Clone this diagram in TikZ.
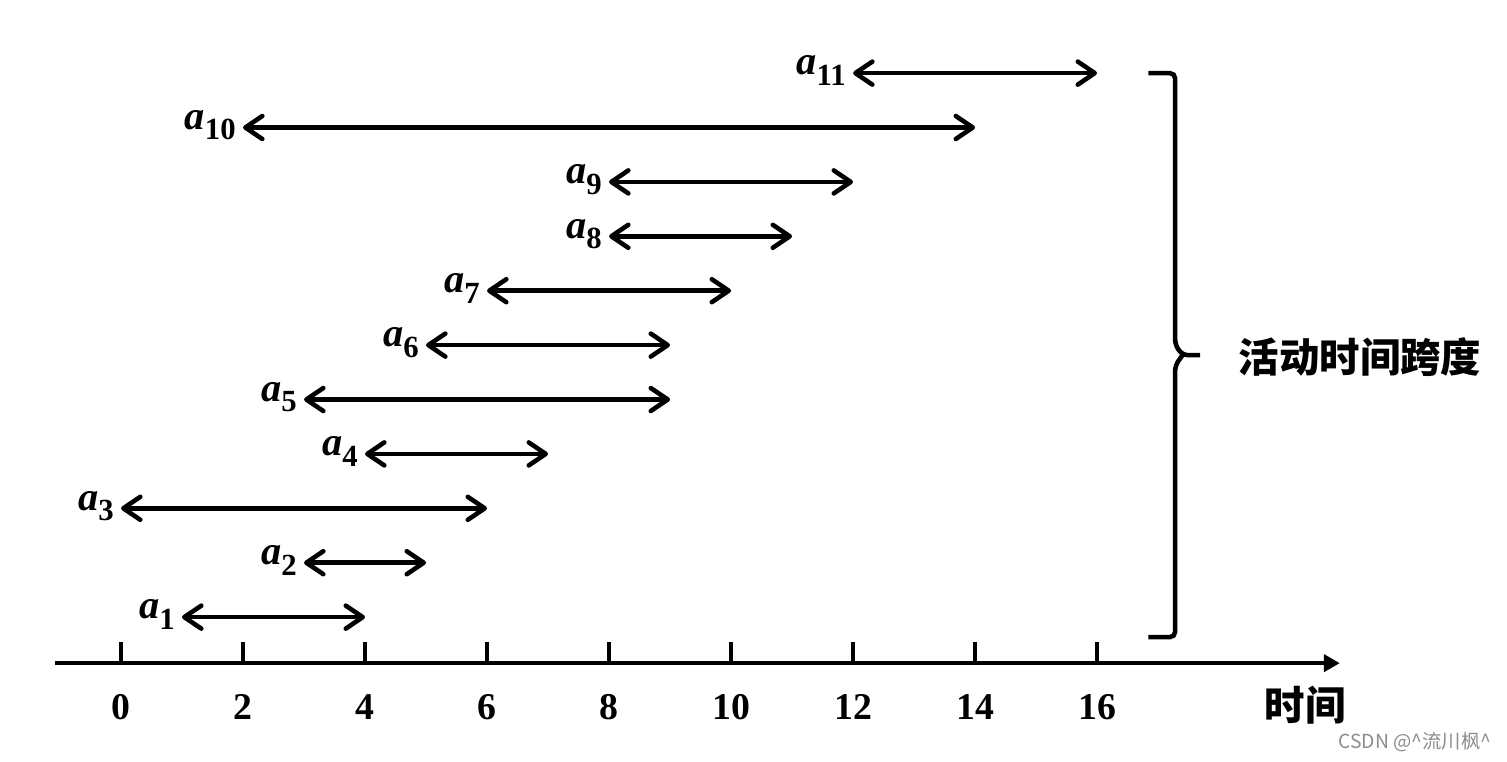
\documentclass[tikz,border=0pt]{standalone}
\usepackage{fontspec}
\setmainfont{Liberation Serif}
\newfontfamily\cjk{Noto Sans CJK SC}
\usetikzlibrary{arrows.meta}
\newcommand{\actname}[1]{{\bfseries\itshape a}\raisebox{-6pt}{\fontsize{17.5}{18}\selectfont\bfseries #1}}

\begin{document}
\begin{tikzpicture}[x=1.22cm,y=1.088cm,
    span/.style={line width=2.6pt,line cap=round,
        {Straight Barb[length=3.4mm,width=4.6mm,round]}-{Straight Barb[length=3.4mm,width=4.6mm,round]}},
    tick/.style={line width=2.6pt},
    ticklabel/.style={font=\fontsize{21.5}{23}\selectfont\bfseries},
    actlabel/.style={anchor=base east,inner sep=1pt,font=\fontsize{23}{25}\selectfont},
    zh/.style={font=\fontsize{23}{26}\selectfont\cjk\bfseries}]
    \useasboundingbox (-1.984,-1.80) rectangle (22.72,12.19);
        % time axis
        \coordinate (ax0) at (-1.08,0);
        \coordinate (ax1) at (19.98,0);
        \draw[line width=2.6pt,-{Triangle[length=3.2mm,width=3.4mm]}] (ax0) -- (ax1);
        \foreach \t in {0,2,...,16}{
            \draw[tick] (\t,0) -- (\t,0.386);
            \node[ticklabel] (t\t) at (\t,-0.81) {\t};
        }
        \node[zh] (axlabel) at (19.41,-0.772) {时间};
        % activities: start/end/index
        \foreach \s/\e/\k in {1/4/1,3/5/2,0/6/3,4/7/4,3/9/5,5/9/6,6/10/7,8/11/8,8/12/9,2/14/10,12/16/11}{
            \coordinate (s\k) at (\s,{0.846+\k-1});
            \coordinate (e\k) at (\e,{0.846+\k-1});
            \draw[span] (s\k) -- (e\k);
            \node[actlabel] (a\k) at ([xshift=-3pt,yshift=-1pt]s\k) {\actname{\k}};
        }
        % brace
        \coordinate (bt) at (16.84,10.846);
        \coordinate (bb) at (16.84,0.478);
        \coordinate (bm) at (17.69,5.662);
        \draw[line width=2.6pt,rounded corners=3pt] (bt) -- (17.28,10.846) -- (17.28,5.85) -- (17.40,5.662) -- (bm);
        \draw[line width=2.6pt,rounded corners=3pt] (bb) -- (17.28,0.478) -- (17.28,5.47) -- (17.40,5.662);
        \node[zh] (spanlabel) at (20.31,5.625) {活动时间跨度};
        \node[text=black!45,font=\fontsize{11}{13}\selectfont\cjk] (mark) at (21.21,-1.452) {CSDN @\^{}流川枫\^{}};
\end{tikzpicture}
\end{document}
